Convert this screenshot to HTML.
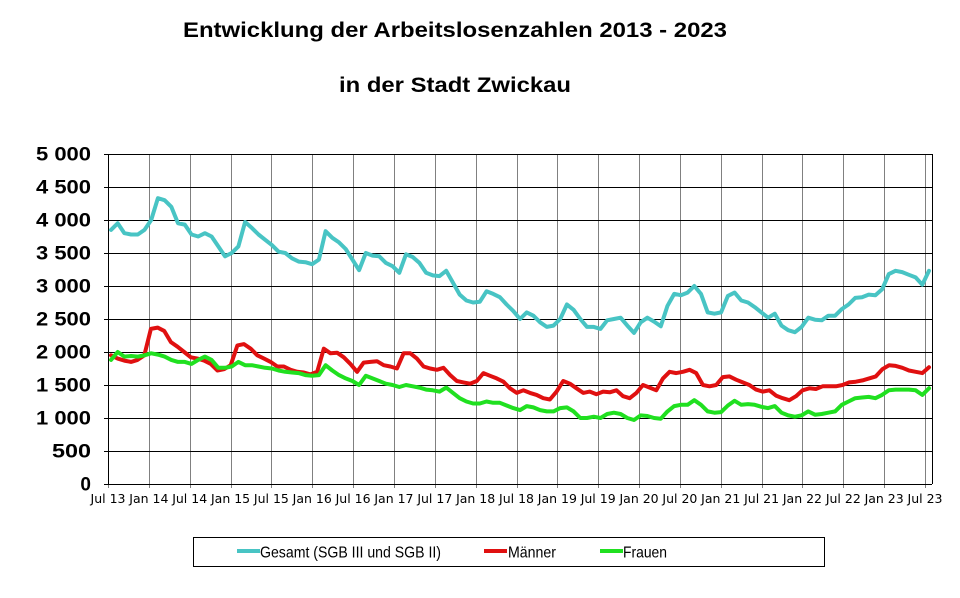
<!DOCTYPE html>
<html><head><meta charset="utf-8"><style>
body{margin:0;background:#fff;}
svg text{font-family:"Liberation Sans",Arial,sans-serif;}
svg text.dv{font-family:"DejaVu Sans",sans-serif;}
</style></head><body>
<svg id="s" width="960" height="593" xmlns="http://www.w3.org/2000/svg">
<rect width="960" height="593" fill="#fff"/>
<text x="183" y="37" font-size="21" font-weight="bold" textLength="544" lengthAdjust="spacingAndGlyphs">Entwicklung der Arbeitslosenzahlen 2013 - 2023</text>
<text x="339" y="92" font-size="21" font-weight="bold" textLength="232" lengthAdjust="spacingAndGlyphs">in der Stadt Zwickau</text>
<g id="grid"></g>
<g id="lines" fill="none" stroke-width="4" stroke-linejoin="round" stroke-linecap="round"></g>
<rect x="193.5" y="537.5" width="631" height="29" fill="none" stroke="#000" stroke-width="1"/>
<line x1="237" y1="551" x2="260" y2="551" stroke="#48c4c4" stroke-width="4"/>
<text x="260" y="557.5" font-size="16" textLength="181" lengthAdjust="spacingAndGlyphs">Gesamt (SGB III und SGB II)</text>
<line x1="484" y1="551" x2="507" y2="551" stroke="#e01010" stroke-width="4"/>
<text x="508" y="557.5" font-size="16" textLength="48" lengthAdjust="spacingAndGlyphs">Männer</text>
<line x1="600" y1="551" x2="623" y2="551" stroke="#20e020" stroke-width="4"/>
<text x="623" y="557.5" font-size="16" textLength="44" lengthAdjust="spacingAndGlyphs">Frauen</text>
</svg>
<script>
var NS="http://www.w3.org/2000/svg";
function el(p,t,a,txt){var e=document.createElementNS(NS,t);for(var k in a)e.setAttribute(k,a[k]);if(txt)e.textContent=txt;p.appendChild(e);return e;}
var g=document.getElementById('grid'),L=108,R=932,T=154,B=484,st=40.85;
var labs=["Jul 13","Jan 14","Jul 14","Jan 15","Jul 15","Jan 16","Jul 16","Jan 17","Jul 17","Jan 18","Jul 18","Jan 19","Jul 19","Jan 20","Jul 20","Jan 21","Jul 21","Jan 22","Jul 22","Jan 23","Jul 23"];
for(var i=0;i<=20;i++){var x=Math.round(L+i*st)+0.5;el(g,'line',{x1:x,y1:T,x2:x,y2:B+4,stroke:'#808080','stroke-width':1});
el(g,'text',{x:L+i*st,y:503,'font-size':12.5,'text-anchor':'middle','class':'dv'},labs[i]);}
for(var j=0;j<=10;j++){var y=Math.round(B-j*33)+0.5;el(g,'line',{x1:L-4,y1:y,x2:R,y2:y,stroke:'#000','stroke-width':1});
var v=j*500;var s=v>=1000?Math.floor(v/1000)+" "+String(v%1000).padStart(3,'0'):String(v);
var a={x:91,y:y+6,'font-size':19,'font-weight':'bold','text-anchor':'end'};
if(v>=1000){a.textLength=55;a.lengthAdjust='spacingAndGlyphs';}
else if(v==500){a.textLength=39;a.lengthAdjust='spacingAndGlyphs';}
el(g,'text',a,s);}
el(g,'line',{x1:L+0.5,y1:T,x2:L+0.5,y2:B,stroke:'#000'});
el(g,'line',{x1:R+0.5,y1:T,x2:R+0.5,y2:B,stroke:'#000'});
var G=[3850,3950,3800,3780,3780,3850,4000,4330,4300,4200,3950,3930,3780,3750,3800,3750,3600,3450,3500,3600,3970,3880,3780,3700,3620,3520,3500,3420,3370,3360,3330,3400,3830,3730,3660,3560,3400,3240,3500,3460,3450,3350,3300,3200,3480,3440,3350,3200,3160,3150,3230,3050,2870,2780,2750,2760,2920,2880,2830,2720,2620,2500,2600,2550,2450,2380,2400,2500,2720,2640,2500,2380,2380,2350,2480,2500,2520,2400,2290,2450,2520,2460,2390,2700,2880,2860,2900,3000,2880,2600,2580,2600,2850,2900,2780,2750,2680,2600,2520,2580,2400,2330,2300,2380,2520,2490,2480,2550,2550,2650,2720,2820,2830,2870,2860,2950,3180,3230,3210,3170,3130,3020,3230];
var M=[1950,1900,1870,1850,1880,1950,2350,2370,2320,2150,2080,2000,1920,1900,1870,1820,1720,1740,1800,2100,2120,2050,1950,1900,1850,1780,1780,1730,1700,1690,1660,1700,2050,1980,1990,1920,1820,1700,1840,1850,1860,1800,1780,1750,1980,1980,1900,1780,1750,1730,1760,1650,1560,1540,1520,1560,1680,1640,1600,1550,1450,1380,1420,1380,1350,1300,1280,1400,1560,1520,1450,1380,1400,1360,1400,1390,1420,1330,1300,1380,1500,1460,1420,1600,1700,1680,1700,1730,1680,1500,1480,1500,1620,1630,1580,1540,1500,1430,1400,1420,1340,1300,1270,1330,1420,1450,1440,1480,1480,1480,1500,1540,1550,1570,1600,1630,1740,1800,1790,1760,1720,1700,1680,1770];
var F=[1880,2000,1930,1940,1930,1950,1980,1960,1930,1880,1850,1850,1820,1880,1930,1880,1760,1760,1780,1850,1800,1800,1780,1760,1750,1720,1700,1690,1680,1650,1640,1650,1800,1720,1650,1600,1560,1500,1640,1600,1560,1520,1500,1470,1500,1480,1460,1430,1420,1400,1460,1380,1300,1250,1220,1220,1250,1230,1230,1190,1150,1120,1180,1160,1120,1100,1100,1150,1160,1100,1000,1000,1020,1000,1060,1080,1060,1000,970,1040,1030,1000,990,1100,1180,1200,1200,1270,1200,1100,1080,1090,1190,1260,1200,1210,1200,1170,1150,1180,1080,1040,1020,1040,1100,1050,1060,1080,1100,1200,1250,1300,1310,1320,1300,1350,1420,1430,1430,1430,1420,1350,1450];
var lg=document.getElementById('lines');
[[G,'#48c4c4'],[M,'#e01010'],[F,'#20e020']].forEach(function(a){var d=a[0],n=d.length,p=[];
for(var i=0;i<n;i++){p.push((111+i*(929-111)/(n-1)).toFixed(1)+','+(B-d[i]*0.066).toFixed(1));}
el(lg,'polyline',{points:p.join(' '),stroke:a[1]});});
</script>
</body></html>
